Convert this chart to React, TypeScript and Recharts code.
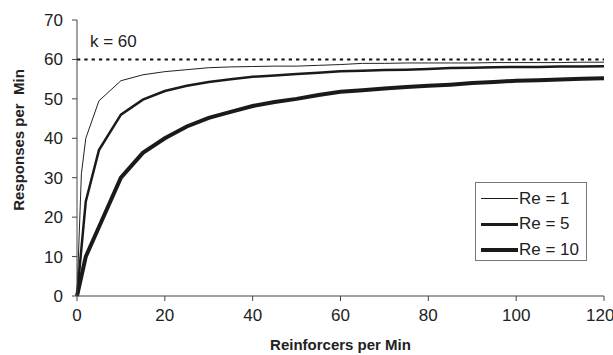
import { LineChart, Line, XAxis, YAxis, ReferenceLine, Label } from "recharts";

const rates = [0, 1, 2, 5, 10, 15, 20, 25, 30, 35, 40, 45, 50, 55, 60, 65, 70, 75, 80, 85, 90, 95, 100, 105, 110, 115, 120];
const re1 = [0, 31, 40, 49.5, 54.6, 56.1, 56.9, 57.4, 57.9, 58.1, 58.2, 58.3, 58.3, 58.5, 58.7, 59, 59, 59.1, 59.1, 59.1, 59.1, 59.2, 59.2, 59.2, 59.2, 59.3, 59.3];
const re5 = [0, 12, 24, 37, 46, 49.8, 52, 53.3, 54.3, 55, 55.6, 55.9, 56.3, 56.6, 57, 57.1, 57.3, 57.4, 57.6, 57.8, 57.9, 58, 58.1, 58.1, 58.2, 58.2, 58.3];
const re10 = [0, 5, 10, 17.5, 30, 36.3, 40, 43, 45.2, 46.7, 48.2, 49.2, 50, 51, 51.8, 52.2, 52.6, 53, 53.3, 53.6, 54, 54.3, 54.6, 54.7, 54.9, 55.1, 55.2];
const xTicks = [0, 20, 40, 60, 80, 100, 120];
const yTicks = [0, 10, 20, 30, 40, 50, 60, 70];

const data = rates.map((r, i) => ({ r, re1: re1[i], re5: re5[i], re10: re10[i] }));

const legendItems = [
  { label: "Re = 1", width: 1 },
  { label: "Re = 5", width: 2.5 },
  { label: "Re = 10", width: 4 },
];

const font = "Liberation Sans, Arial, sans-serif";

function LegendBox() {
  return (
    <div
      style={{
        position: "absolute",
        left: 475,
        top: 182,
        width: 112,
        height: 79,
        border: "1px solid #777",
        background: "#fff",
        fontFamily: font,
        fontSize: 17,
        lineHeight: "20px",
        color: "#222",
        boxSizing: "border-box",
        paddingTop: 3,
      }}
    >
      {legendItems.map((it) => (
        <div key={it.label} style={{ display: "flex", alignItems: "center", height: 25.5 }}>
          <div style={{ marginLeft: 5, width: 37, height: it.width, background: "#1a1a1a" }} />
          <span style={{ marginLeft: 1 }}>{it.label}</span>
        </div>
      ))}
    </div>
  );
}

export default function App() {
  return (
    <div style={{ position: "absolute", left: 0, top: 0, width: 613, height: 355, background: "#fff" }}>
      <LineChart width={613} height={355} data={data} margin={{ top: 20, right: 9, left: 27, bottom: 29 }}>
        <XAxis
          dataKey="r"
          type="number"
          domain={[0, 120]}
          ticks={xTicks}
          tick={{ fill: "#222", fontSize: 17, fontFamily: font }}
          stroke="#444"
          tickSize={5}
          tickMargin={8}
          height={30}
        >
          <Label
            content={() => (
              <text x={340.5} y={350} textAnchor="middle" fontFamily={font} fontSize={15} fontWeight="bold" fill="#222">
                Reinforcers per Min
              </text>
            )}
          />
        </XAxis>
        <YAxis
          type="number"
          domain={[0, 70]}
          ticks={yTicks}
          tick={{ fill: "#222", fontSize: 17, fontFamily: font }}
          stroke="#444"
          tickSize={5}
          tickMargin={9}
          width={50}
        >
          <Label
            content={() => (
              <text
                x={24}
                y={140}
                transform="rotate(-90 24 140)"
                textAnchor="middle"
                fontFamily={font}
                fontSize={15}
                fontWeight="bold"
                fill="#222"
                style={{ whiteSpace: "pre" }}
              >
                {"Responses per  Min"}
              </text>
            )}
          />
        </YAxis>
        <ReferenceLine
          y={60}
          stroke="#111"
          strokeWidth={2}
          strokeDasharray="3.3 4"
          label={(props: any) => (
            <text x={props.viewBox.x + 13} y={props.viewBox.y - 12} fontFamily={font} fontSize={17} fill="#222">
              k = 60
            </text>
          )}
        />
        <Line dataKey="re1" stroke="#222" strokeWidth={1} dot={false} isAnimationActive={false} />
        <Line dataKey="re5" stroke="#1a1a1a" strokeWidth={2.5} dot={false} isAnimationActive={false} />
        <Line dataKey="re10" stroke="#1a1a1a" strokeWidth={4} dot={false} isAnimationActive={false} />
      </LineChart>
      <LegendBox />
    </div>
  );
}
